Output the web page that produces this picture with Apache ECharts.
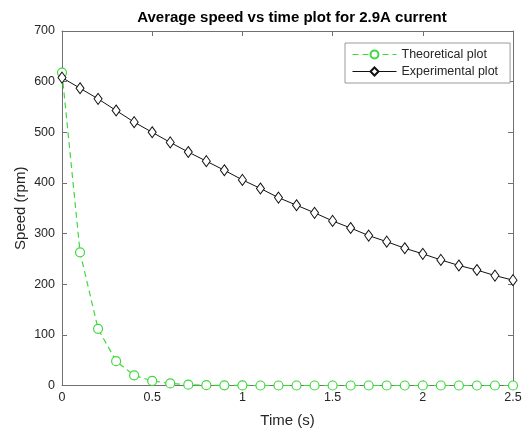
<!DOCTYPE html>
<html>
<head>
<meta charset="utf-8">
<script src="https://cdn.jsdelivr.net/npm/echarts@6/dist/echarts.min.js"></script>
<style>html,body{margin:0;padding:0;background:#fff}#c{width:526px;height:434px}</style>
</head>
<body>
<div id="c"></div>
<script>
const times = [0,0.1,0.2,0.3,0.4,0.5,0.6,0.7,0.8,0.9,1.0,1.1,1.2,1.3,1.4,1.5,1.6,1.7,1.8,1.9,2.0,2.1,2.2,2.3,2.4,2.5];
const theoretical = [618,263,112,48,20,9,4,1.6,0.7,0.3,0.1,0,0,0,0,0,0,0,0,0,0,0,0,0,0,0];
const experimental = [608,587,566,543,520,500,480,461,443,425,406,389,371,356,341,325,311,296,284,271,260,248,237,228,217,208];
const xTicks = [0,0.5,1,1.5,2,2.5];
const yTicks = [0,100,200,300,400,500,600,700];

const FONT = "'Liberation Sans', Arial, Helvetica, sans-serif";
const green = '#3fd83f';
const axisCol = '#707070';
const textCol = '#262626';

const chart = echarts.init(document.getElementById('c'), null, {renderer:'canvas'});
const pair = arr => times.map((t,i)=>[t,arr[i]]);

const baseX = {type:'value', min:xTicks[0], max:xTicks[xTicks.length-1], interval:0.5,
  axisLine:{show:true, onZero:false, lineStyle:{color:axisCol,width:1}},
  axisTick:{show:true, inside:true, length:5, lineStyle:{color:axisCol}},
  splitLine:{show:false}};
const baseY = {type:'value', min:yTicks[0], max:yTicks[yTicks.length-1], interval:100,
  axisLine:{show:true, onZero:false, lineStyle:{color:axisCol,width:1}},
  axisTick:{show:true, inside:true, length:5, lineStyle:{color:axisCol}},
  splitLine:{show:false}};

chart.setOption({
  animation:false,
  backgroundColor:'#fff',
  title:{text:'Average speed vs time plot for 2.9A current', left:287, top:5, textAlign:'center',
    textStyle:{fontFamily:FONT, fontSize:15, fontWeight:'bold', color:'#000'}},
  grid:{left:62, right:13, top:31, bottom:48.5, containLabel:false},
  legend:{orient:'vertical', left:345, top:43, itemWidth:44, itemHeight:10, itemGap:4,
    padding:[5,12,5,7], borderColor:'#9a9a9a', borderWidth:1, backgroundColor:'#fff',
    lineStyle:{width:1},
    textStyle:{fontFamily:FONT, fontSize:12.5, color:textCol},
    data:['Theoretical plot','Experimental plot']},
  xAxis:[
    Object.assign({}, baseX, {position:'bottom', name:'Time (s)', nameLocation:'middle', nameGap:28,
      nameMoveOverlap:false,
      nameTextStyle:{fontFamily:FONT, fontSize:15, color:textCol},
      axisLabel:{fontFamily:FONT, fontSize:12.5, color:textCol, margin:6, formatter:v=>String(v)}}),
    Object.assign({}, baseX, {position:'top', axisLabel:{show:false}})
  ],
  yAxis:[
    Object.assign({}, baseY, {position:'left', name:'Speed (rpm)', nameLocation:'middle', nameGap:34,
      nameMoveOverlap:false,
      nameTextStyle:{fontFamily:FONT, fontSize:15, color:textCol},
      axisLabel:{fontFamily:FONT, fontSize:12.5, color:textCol, margin:7}}),
    Object.assign({}, baseY, {position:'right', axisLabel:{show:false}})
  ],
  series:[
    {name:'Theoretical plot', type:'line', data:pair(theoretical), xAxisIndex:0, yAxisIndex:0,
      symbol:'circle', symbolSize:9, showAllSymbol:true,
      lineStyle:{color:green, width:1.2, type:[6,4]},
      itemStyle:{color:'#fff', borderColor:green, borderWidth:1.2}, z:3},
    {name:'Experimental plot', type:'line', data:pair(experimental), xAxisIndex:0, yAxisIndex:0,
      symbol:'diamond', symbolSize:[8,11], showAllSymbol:true,
      lineStyle:{color:'#111', width:1},
      itemStyle:{color:'#fff', borderColor:'#111', borderWidth:1}, z:4}
  ]
});
</script>
</body>
</html>
